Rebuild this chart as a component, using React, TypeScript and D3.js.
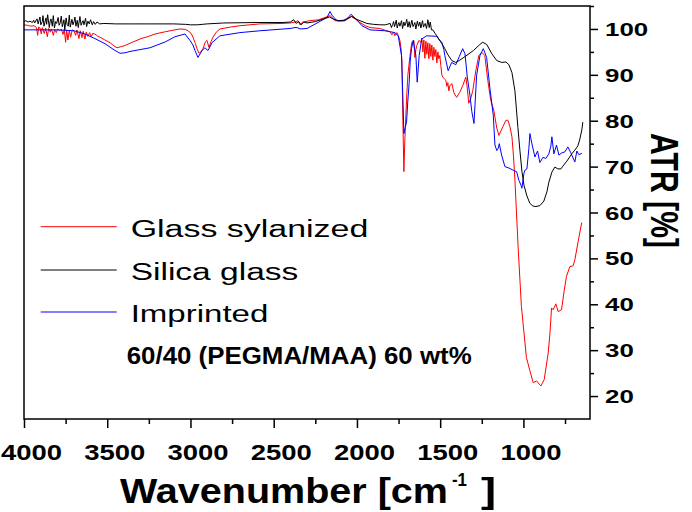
import {useEffect, useRef} from "react";
import * as d3 from "d3";

// x tick labels / series
const majorTicks = [4000, 3500, 3000, 2500, 2000, 1500, 1000]
const minorTicks = [3750, 3250, 2750, 2250, 1750, 1250, 750]
const yTicks = [20, 30, 40, 50, 60, 70, 80, 90, 100]
const yMinor = [25, 35, 45, 55, 65, 75, 85, 95, 105]

const seriesNames = ["Glass sylanized", "Silica glass", "Imprinted"]
const seriesColors = ["#ff0000", "#000000", "#0000ff"]

// Silica glass (black)
const silica: [number, number][] = [
    [4000, 101.6], [3990, 101.8], [3975, 101.5], [3964, 101.7], [3950, 101.4], [3942, 101.9], [3936, 101.3],
    [3922, 102.2], [3915, 101.1], [3904, 102.6], [3899, 100.9], [3890, 101.6], [3886, 102.9], [3880, 100.6],
    [3868, 102.4], [3864, 101.0], [3858, 103.1], [3848, 100.3], [3843, 101.7], [3838, 102.2], [3830, 100.6],
    [3824, 102.9], [3817, 100.2], [3810, 101.6], [3804, 101.2], [3795, 102.5], [3789, 100.8], [3782, 101.4],
    [3776, 102.8], [3770, 100.5], [3760, 102.0], [3755, 99.8], [3747, 102.4], [3741, 101.0], [3734, 100.6],
    [3728, 103.0], [3722, 100.4], [3712, 102.1], [3706, 100.9], [3699, 101.6], [3694, 102.6], [3688, 100.6],
    [3680, 101.9], [3674, 100.3], [3664, 102.7], [3657, 100.8], [3650, 101.5], [3645, 101.8], [3640, 100.9],
    [3630, 102.3], [3624, 100.5], [3616, 101.7], [3608, 101.1], [3600, 102.0], [3590, 100.9], [3582, 101.6],
    [3572, 101.0], [3562, 101.5], [3545, 101.1], [3520, 101.2], [3450, 101.1], [3350, 101.1],
    [3250, 101.1], [3100, 101.1], [3030, 101.0], [3000, 100.9], [2960, 100.9], [2900, 101.1], [2800, 101.3],
    [2600, 101.4], [2450, 101.4], [2400, 101.5], [2380, 102.0], [2365, 101.2], [2350, 101.6], [2335, 100.9],
    [2320, 101.5], [2300, 101.3], [2250, 101.6], [2200, 102.2], [2165, 102.6], [2140, 102.1], [2110, 101.8],
    [2080, 101.9], [2050, 102.4], [2032, 102.7], [2015, 102.3], [1982, 101.8], [1940, 101.2], [1900, 101.0],
    [1862, 100.9], [1830, 100.9], [1800, 101.2], [1793, 100.3], [1785, 101.0], [1780, 101.6], [1774, 100.5],
    [1764, 101.9], [1758, 100.2], [1752, 101.1], [1748, 101.4], [1742, 100.6], [1732, 101.8], [1726, 100.1],
    [1718, 101.5], [1712, 100.7], [1706, 101.3], [1701, 102.1], [1694, 100.4], [1686, 101.6], [1680, 100.3],
    [1670, 101.9], [1663, 100.5], [1657, 101.0], [1652, 101.4], [1646, 100.0], [1637, 101.7], [1630, 100.6],
    [1622, 101.5], [1616, 100.2], [1606, 101.8], [1600, 100.4], [1594, 101.0], [1590, 101.2], [1582, 100.1],
    [1574, 102.0], [1566, 100.3], [1560, 101.5], [1552, 99.8], [1544, 99.8],
    [1530, 99.0], [1520, 98.5], [1505, 97.6], [1490, 96.8], [1472, 95.7], [1454, 94.4], [1430, 93.1],
    [1406, 92.7], [1382, 93.2], [1346, 94.1], [1300, 95.3], [1262, 96.6], [1244, 97.1], [1220, 96.6],
    [1190, 94.6], [1160, 93.1], [1130, 92.7], [1105, 92.8], [1087, 92.2], [1069, 90.5], [1051, 86.5],
    [1033, 78.5], [1021, 73.5], [1009, 69.0], [997, 66.0], [979, 63.6], [961, 62.0], [943, 61.4], [925, 61.3],
    [901, 61.5], [877, 62.5], [859, 64.5], [847, 66.6], [829, 68.8], [811, 69.9], [793, 69.5], [775, 69.5],
    [763, 70.1], [739, 71.2], [709, 72.8], [691, 73.6], [673, 74.5], [661, 76.0], [649, 78.0], [643, 79.7]
]

// Glass sylanized (red)
const sylanized: [number, number][] = [
    [4000, 100.9], [3980, 100.8], [3960, 100.6], [3940, 100.7], [3925, 100.3], [3918, 98.6], [3912, 100.4],
    [3904, 100.2], [3896, 98.9], [3890, 100.3], [3878, 99.0], [3870, 100.2], [3860, 98.3], [3852, 100.1],
    [3842, 99.3], [3835, 100.0], [3824, 98.6], [3816, 99.9], [3806, 99.2], [3798, 100.0], [3786, 99.6],
    [3776, 100.0], [3766, 98.8], [3758, 99.9], [3750, 97.1], [3744, 99.8], [3736, 97.6], [3728, 99.7],
    [3720, 98.2], [3710, 99.8], [3700, 99.6], [3690, 98.6], [3682, 99.8], [3670, 97.9], [3662, 99.6],
    [3652, 98.1], [3644, 99.5], [3634, 97.8], [3626, 99.3], [3616, 98.4], [3606, 99.2], [3596, 98.3],
    [3588, 99.0], [3574, 98.9], [3560, 98.5], [3544, 98.2], [3514, 97.6], [3483, 97.0], [3460, 96.3],
    [3441, 95.9], [3420, 96.1], [3393, 96.4], [3350, 97.1], [3303, 97.8], [3243, 98.5], [3213, 98.9],
    [3150, 99.4], [3093, 99.8], [3063, 100.0], [3030, 99.9], [3015, 99.6], [2995, 99.0], [2985, 98.2],
    [2970, 96.8], [2961, 95.7], [2949, 94.7], [2937, 95.0], [2925, 95.7], [2910, 97.2], [2901, 97.5],
    [2889, 96.0], [2877, 97.2], [2865, 98.2], [2845, 99.3], [2823, 100.0], [2760, 100.4], [2703, 100.7],
    [2583, 101.1], [2450, 101.2], [2402, 101.3], [2372, 101.5], [2354, 101.8], [2342, 100.9], [2325, 101.5],
    [2282, 101.8], [2230, 102.0], [2192, 102.5], [2162, 102.9], [2140, 102.2], [2132, 101.8], [2100, 101.7],
    [2072, 101.8], [2045, 102.4], [2030, 102.8], [2015, 102.3], [1982, 101.4], [1950, 100.7], [1922, 100.3],
    [1862, 100.1], [1830, 99.7], [1802, 99.4], [1790, 98.7], [1780, 99.3], [1772, 98.5], [1760, 99.2],
    [1750, 98.4], [1742, 97.5], [1736, 96.0], [1730, 93.1], [1724, 80.0], [1718, 68.9], [1712, 76.0],
    [1706, 81.2], [1700, 86.0], [1694, 90.0], [1688, 92.0], [1682, 94.0], [1676, 95.7], [1670, 97.1],
    [1658, 97.5], [1652, 93.8], [1646, 95.5], [1640, 96.4], [1628, 97.5], [1616, 97.1], [1610, 98.0],
    [1604, 95.0], [1598, 97.6], [1592, 93.6], [1586, 97.3], [1580, 94.5], [1574, 97.0], [1568, 93.5],
    [1562, 96.8], [1556, 94.0], [1550, 96.5], [1544, 93.2], [1538, 96.0], [1532, 94.0], [1526, 95.5],
    [1520, 92.6], [1514, 95.0], [1508, 93.5], [1502, 94.2], [1496, 92.0], [1490, 90.0], [1484, 89.5],
    [1472, 89.0], [1466, 88.8], [1460, 87.5], [1454, 88.3], [1448, 86.5], [1442, 87.6], [1430, 88.1],
    [1418, 86.2], [1406, 85.3], [1400, 85.1], [1390, 85.8], [1382, 86.2], [1364, 87.7], [1346, 89.5],
    [1340, 88.0], [1328, 83.8], [1316, 84.9], [1304, 86.6], [1286, 90.9], [1268, 94.2], [1250, 94.9],
    [1232, 94.2], [1214, 88.8], [1196, 84.4], [1178, 82.3], [1160, 78.4], [1147, 76.8], [1135, 77.8],
    [1123, 78.7], [1105, 80.1], [1093, 80.1], [1081, 78.7], [1069, 76.5], [1060, 72.5], [1051, 67.1],
    [1032, 52.6], [1012, 39.5], [982, 28.4], [961, 25.5], [941, 22.9], [921, 23.3], [905, 22.6], [895, 22.2],
    [875, 23.6], [851, 29.4], [840, 34.0], [831, 39.2], [821, 38.8], [805, 40.1], [791, 38.4], [771, 38.8],
    [755, 43.0], [741, 46.1], [721, 48.2], [701, 48.4], [691, 49.7], [671, 53.7], [650, 57.8]
]

// Imprinted (blue)
const imprinted: [number, number][] = [
    [4000, 99.8], [3900, 99.8], [3800, 99.8], [3700, 99.6], [3634, 98.9], [3574, 97.9], [3514, 96.8],
    [3453, 95.3], [3423, 94.7], [3393, 94.8], [3363, 95.1], [3303, 95.5], [3243, 95.9], [3150, 97.2],
    [3093, 98.3], [3033, 98.9], [3003, 97.5], [2985, 96.5], [2973, 95.3], [2955, 93.8], [2940, 94.7],
    [2931, 95.3], [2913, 95.9], [2895, 95.3], [2880, 96.3], [2871, 97.0], [2823, 98.5], [2703, 99.2],
    [2583, 99.6], [2402, 100.1], [2372, 100.3], [2360, 100.3], [2342, 100.0], [2300, 100.1], [2234, 101.4],
    [2180, 102.5], [2162, 103.8], [2150, 103.0], [2138, 102.5], [2120, 101.8], [2072, 101.8], [2050, 102.6],
    [2036, 103.2], [2006, 102.2], [1970, 100.7], [1922, 99.8], [1832, 99.6], [1772, 99.2], [1752, 98.5],
    [1732, 94.2], [1724, 85.0], [1718, 77.2], [1710, 78.5], [1702, 79.7], [1694, 84.5], [1686, 88.4],
    [1680, 93.0], [1672, 95.7], [1662, 97.5], [1646, 94.2], [1638, 88.4], [1626, 94.2], [1611, 97.8],
    [1581, 98.5], [1521, 98.4], [1502, 97.5], [1490, 97.1], [1478, 95.5], [1472, 94.2], [1452, 90.9],
    [1431, 92.7], [1406, 92.2], [1385, 94.0], [1365, 95.7], [1351, 94.6], [1337, 89.5], [1321, 85.5],
    [1310, 82.0], [1297, 79.4], [1281, 89.9], [1261, 94.2], [1241, 95.7], [1221, 93.8], [1201, 87.0],
    [1181, 81.2], [1171, 74.7], [1160, 73.5], [1151, 74.0], [1145, 75.0], [1131, 72.5], [1111, 70.0],
    [1081, 69.6], [1061, 69.2], [1041, 68.9], [1027, 67.0], [1015, 66.0], [1009, 65.3], [997, 68.5],
    [991, 69.2], [979, 69.5], [967, 74.0], [961, 77.2], [949, 75.0], [931, 72.1], [915, 73.4], [901, 70.9],
    [883, 72.0], [865, 71.8], [847, 72.8], [835, 74.5], [829, 76.5], [817, 72.8], [801, 74.7], [787, 72.5],
    [769, 73.0], [751, 73.2], [733, 74.3], [715, 73.0], [691, 71.0], [679, 73.4], [667, 72.6], [649, 72.9]
]

const FONT = "'Liberation Sans', Arial, sans-serif"

const App = () => {
    const svgRef = useRef<SVGSVGElement>(null)

    useEffect(() => {
        const svg = d3.select(svgRef.current)
        svg.selectAll("*").remove()

        const left = 24, right = 590, top = 6, bottom = 419
        const x = d3.scaleLinear().domain([4000, 600]).range([left, right])
        const y = d3.scaleLinear().domain([15, 105]).range([bottom, top])

        // traces: red, blue, then black on top
        const line = d3.line<[number, number]>()
            .x(d => x(d[0]))
            .y(d => y(d[1]))
        const plot = svg.append("g")
        ;[0, 2, 1].forEach(i => {
            const s = [sylanized, silica, imprinted][i]
            plot.append("path")
                .attr("d", line(s))
                .attr("fill", "none")
                .attr("stroke", seriesColors[i])
                .attr("stroke-width", 1)
                .attr("stroke-linejoin", "round")
        })

        // frame
        svg.append("rect")
            .attr("x", left).attr("y", top)
            .attr("width", right - left).attr("height", bottom - top)
            .attr("fill", "none").attr("stroke", "#000").attr("stroke-width", 1.5)

        // ticks
        const xMajor = svg.append("g").attr("transform", `translate(0,${bottom})`)
            .call(d3.axisBottom(x).tickValues(majorTicks).tickSize(9).tickFormat(() => ""))
        const xMinor = svg.append("g").attr("transform", `translate(0,${bottom})`)
            .call(d3.axisBottom(x).tickValues(minorTicks).tickSize(5).tickFormat(() => ""))
        const yMajor = svg.append("g").attr("transform", `translate(${right},0)`)
            .call(d3.axisRight(y).tickValues(yTicks).tickSize(8).tickFormat(() => ""))
        const yMin = svg.append("g").attr("transform", `translate(${right},0)`)
            .call(d3.axisRight(y).tickValues(yMinor).tickSize(4).tickFormat(() => ""))
        ;[xMajor, xMinor, yMajor, yMin].forEach(g => {
            g.select(".domain").remove()
            g.selectAll("line").attr("stroke", "#000").attr("stroke-width", 1.5)
        })

        // tick labels
        svg.append("g").selectAll("text").data(majorTicks).join("text")
            .attr("x", d => x(d) + 7.5)
            .attr("y", 459.5)
            .attr("text-anchor", "middle")
            .attr("font-family", FONT).attr("font-weight", "bold").attr("font-size", 22.5)
            .attr("textLength", 61).attr("lengthAdjust", "spacingAndGlyphs")
            .text(d => d)
        svg.append("g").selectAll("text").data(yTicks).join("text")
            .attr("x", 605)
            .attr("y", d => y(d) + 7)
            .attr("font-family", FONT).attr("font-weight", "bold").attr("font-size", 19)
            .attr("textLength", d => String(d).length * 14.4).attr("lengthAdjust", "spacingAndGlyphs")
            .text(d => d)

        // axis titles
        const bold = (sel: any) => sel.attr("font-family", FONT).attr("font-weight", "bold")
        bold(svg.append("text")).attr("x", 120).attr("y", 503).attr("font-size", 35)
            .attr("textLength", 328).attr("lengthAdjust", "spacingAndGlyphs")
            .text("Wavenumber [cm")
        bold(svg.append("text")).attr("x", 452).attr("y", 486).attr("font-size", 19)
            .attr("textLength", 15).attr("lengthAdjust", "spacingAndGlyphs")
            .text("-1")
        bold(svg.append("text")).attr("x", 481).attr("y", 503).attr("font-size", 35)
            .attr("textLength", 15).attr("lengthAdjust", "spacingAndGlyphs")
            .text("]")
        bold(svg.append("text")).attr("transform", "translate(651,190.5) rotate(90)")
            .attr("text-anchor", "middle").attr("font-size", 38)
            .attr("textLength", 115).attr("lengthAdjust", "spacingAndGlyphs")
            .text("ATR [%]")

        // legend
        const legY = [226.7, 270, 312]
        const legLen = [237.6, 167.6, 137.6]
        const leg = svg.append("g")
        seriesNames.forEach((name, i) => {
            leg.append("line")
                .attr("x1", 40.7).attr("x2", 116.7)
                .attr("y1", legY[i]).attr("y2", legY[i])
                .attr("stroke", seriesColors[i]).attr("stroke-width", 1)
            leg.append("text")
                .attr("x", 130.7).attr("y", legY[i] + 10.2)
                .attr("font-family", FONT).attr("font-size", 23.3)
                .attr("textLength", legLen[i]).attr("lengthAdjust", "spacingAndGlyphs")
                .text(name)
        })
        bold(svg.append("text")).attr("x", 126.7).attr("y", 364).attr("font-size", 23)
            .attr("textLength", 345).attr("lengthAdjust", "spacingAndGlyphs")
            .text("60/40 (PEGMA/MAA) 60 wt%")
    }, [])

    return (
        <svg ref={svgRef} width={692} height={512}
             style={{position: "absolute", left: 0, top: 0, background: "#fff"}}/>
    )
}

export default App
